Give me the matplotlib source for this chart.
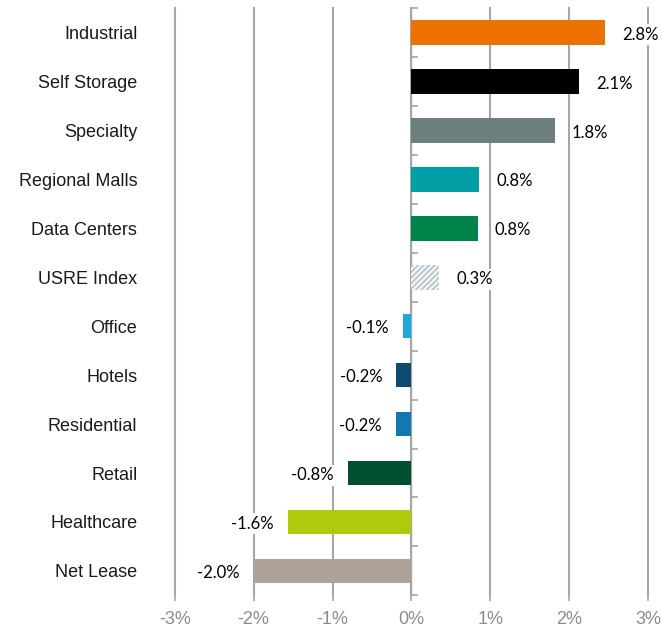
import matplotlib
matplotlib.use("Agg")
import matplotlib.pyplot as plt
import numpy as np

# --- data (top to bottom) ---
categories = ["Industrial", "Self Storage", "Specialty", "Regional Malls", "Data Centers",
              "USRE Index", "Office", "Hotels", "Residential", "Retail", "Healthcare", "Net Lease"]
values = [2.46, 2.13, 1.82, 0.86, 0.84, 0.35, -0.11, -0.19, -0.20, -0.81, -1.57, -2.0]
value_labels = ["2.8%", "2.1%", "1.8%", "0.8%", "0.8%", "0.3%",
                "-0.1%", "-0.2%", "-0.2%", "-0.8%", "-1.6%", "-2.0%"]
colors = ["#EE7203", "#000000", "#6E7F80", "#00A0A6", "#00844A", "#FFFFFF",
          "#1BA9E0", "#0E4A6E", "#1478B0", "#005030", "#AFCA0B", "#ADA39A"]
x_ticks = [-3, -2, -1, 0, 1, 2, 3]
x_tick_labels = ["-3%", "-2%", "-1%", "0%", "1%", "2%", "3%"]

plt.rcParams["hatch.linewidth"] = 1.6

fig = plt.figure(figsize=(6.62, 6.32), dpi=100)
ax = fig.add_axes([0.264, 0.058, 0.715, 0.929])

y = np.arange(len(categories))
bars = ax.barh(y, values, height=0.5, color=colors, zorder=3, linewidth=0)
# index bar is hatched
idx = categories.index("USRE Index")
bars[idx].set_hatch("//////")
bars[idx].set_edgecolor("#BCC7CF")

ax.set_ylim(len(categories) - 0.5, -0.5)
ax.set_xlim(-3, 3)

# gridlines
for xt in x_ticks:
    ax.axvline(xt, color="#A6A6A6", lw=1.5, zorder=1, clip_on=False)

for s in ax.spines.values():
    s.set_visible(False)

ax.set_xticks(x_ticks)
ax.set_xticklabels(x_tick_labels, fontsize=13, color="#8C8C8C", family="Liberation Sans")
ax.tick_params(axis="x", length=4, width=1.2, color="#A6A6A6", pad=7)

ax.set_yticks(y)
ax.set_yticklabels(categories, fontsize=13, family="Liberation Sans", color="#1a1a1a")
ax.tick_params(axis="y", length=0, pad=27)

# zero axis with category separator ticks
sec = ax.secondary_yaxis(0.5)
sec.set_yticks(np.arange(len(categories) + 1) - 0.5)
sec.set_yticklabels([])
sec.tick_params(length=5, width=1.2, color="#A6A6A6", direction="out")
sec.spines["left"].set_color("#A6A6A6")
sec.spines["left"].set_linewidth(1.5)

# value labels, white boxes hide the gridlines behind them
for yi, v, lab in zip(y, values, value_labels):
    if v >= 0:
        off, ha = 17, "left"
    else:
        off, ha = -14, "right"
    ax.annotate(lab, (v, yi), xytext=(off, -2), textcoords="offset pixels",
                ha=ha, va="center", fontsize=12, family="Lato", zorder=5,
                bbox=dict(boxstyle="square,pad=0.15", fc="white", ec="none"))

fig.savefig("out.png", dpi=100)
